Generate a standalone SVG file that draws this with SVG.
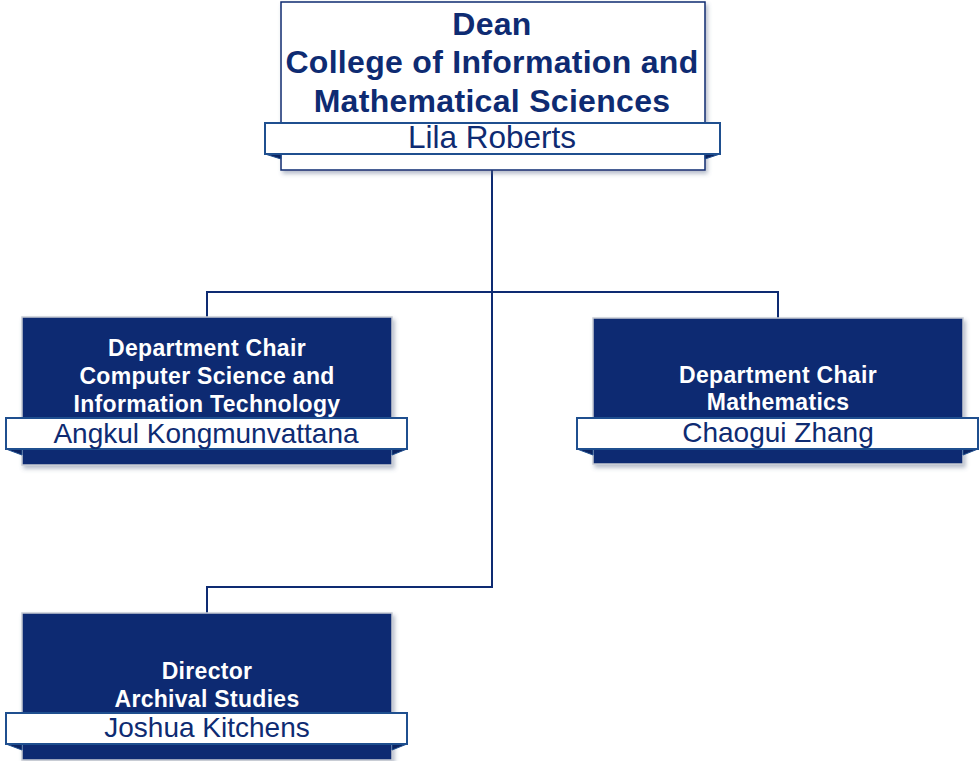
<svg xmlns="http://www.w3.org/2000/svg" width="980" height="761" viewBox="0 0 980 761">
<style>
.box{fill:#0E2B72;stroke:#C8CCD4;stroke-width:1.5}
.topbox{fill:#FFFFFF;stroke:#0E2B72;stroke-width:1.5}
.bar{fill:#FFFFFF;stroke:#1F4F8F;stroke-width:2}
.fold{fill:#0B2360;stroke:#1F4F8F;stroke-width:1}
.title{font-family:"Liberation Sans",Arial,sans-serif;font-weight:bold;fill:#FFFFFF;font-size:23px;letter-spacing:0.3px;text-anchor:middle}
.ttitle{font-family:"Liberation Sans",Arial,sans-serif;font-weight:bold;fill:#0E2B72;font-size:32px;letter-spacing:0.3px;text-anchor:middle}
.name{font-family:"Liberation Sans",Arial,sans-serif;fill:#0E2B72;font-size:28px;text-anchor:middle}
.conn{fill:none;stroke:#0E2B72;stroke-width:2}
</style>
<defs>
<filter id="sh" x="-5%" y="-5%" width="112%" height="120%">
<feDropShadow dx="2" dy="3" stdDeviation="2" flood-color="#5A6A8A" flood-opacity="0.45"/>
</filter>
</defs>
<g id="connectors">
<path class="conn" d="M492,170 V587 H207 V613"/>
<path class="conn" d="M492,292 H207 V317"/>
<path class="conn" d="M492,292 H778 V318"/>
</g>
<g id="dean">
<rect class="topbox" x="281" y="2" width="424" height="168" filter="url(#sh)"/>
<text class="ttitle" x="492" y="35">Dean</text>
<text class="ttitle" x="492" y="73">College of Information and</text>
<text class="ttitle" x="492" y="112">Mathematical Sciences</text>
<polygon class="fold" points="265,154 281,159 281,154"/>
<polygon class="fold" points="720,154 705,159 705,154"/>
<rect class="bar" x="265" y="123" width="455" height="31"/>
<text class="name" x="492" y="148" style="font-size:31.5px">Lila Roberts</text>
</g>
<g id="cs">
<rect class="box" x="22" y="317" width="370" height="148" filter="url(#sh)"/>
<text class="title" x="207" y="356">Department Chair</text>
<text class="title" x="207" y="384">Computer Science and</text>
<text class="title" x="207" y="412">Information Technology</text>
<polygon class="fold" points="6,449 22,455 22,449"/>
<polygon class="fold" points="407,449 392,455 392,449"/>
<rect class="bar" x="6" y="418" width="401" height="31"/>
<text class="name" x="206" y="443">Angkul Kongmunvattana</text>
</g>
<g id="math">
<rect class="box" x="593" y="318" width="370" height="146" filter="url(#sh)"/>
<text class="title" x="778" y="383">Department Chair</text>
<text class="title" x="778" y="410">Mathematics</text>
<polygon class="fold" points="577,449 593,455 593,449"/>
<polygon class="fold" points="978,449 963,455 963,449"/>
<rect class="bar" x="577" y="418" width="401" height="31"/>
<text class="name" x="778" y="442">Chaogui Zhang</text>
</g>
<g id="archival">
<rect class="box" x="22" y="613" width="370" height="147" filter="url(#sh)"/>
<text class="title" x="207" y="679">Director</text>
<text class="title" x="207" y="707">Archival Studies</text>
<polygon class="fold" points="6,744 22,750 22,744"/>
<polygon class="fold" points="407,744 392,750 392,744"/>
<rect class="bar" x="6" y="713" width="401" height="31"/>
<text class="name" x="207" y="737">Joshua Kitchens</text>
</g>
</svg>
